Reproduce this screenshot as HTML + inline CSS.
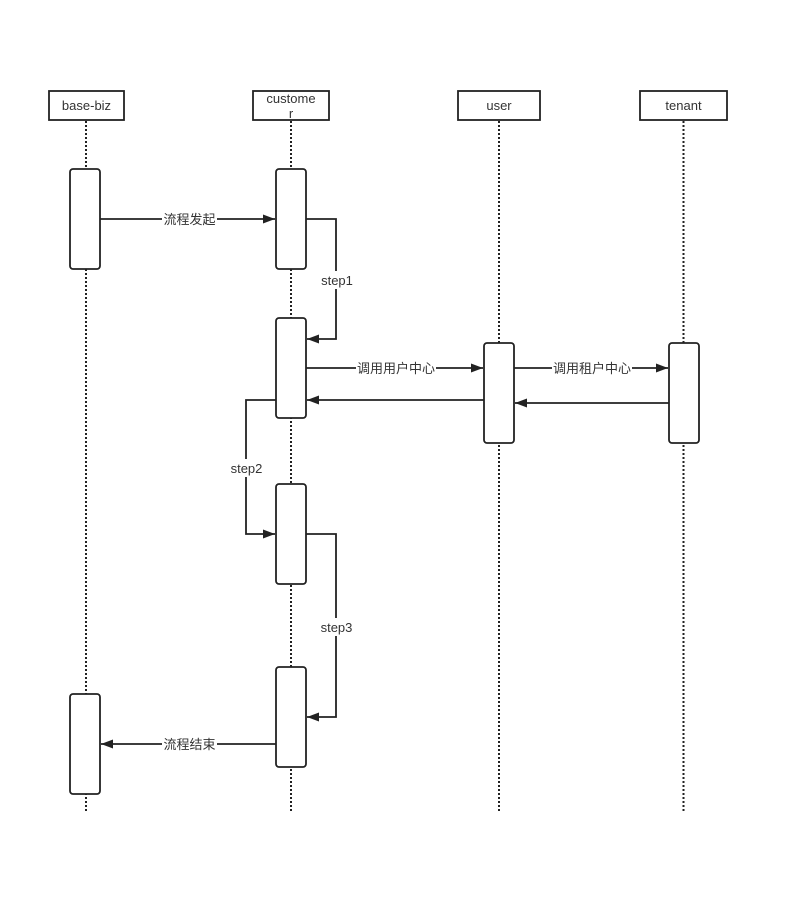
<!DOCTYPE html>
<html>
<head>
<meta charset="utf-8">
<style>
html,body{margin:0;padding:0;background:#fff;}
svg{display:block;}
text{font-family:"Liberation Sans","Noto Sans CJK SC",sans-serif;font-size:13px;fill:#333;}
</style>
</head>
<body>
<svg width="812" height="903" viewBox="0 0 812 903" xmlns="http://www.w3.org/2000/svg">
<defs>
<marker id="ah" markerWidth="12" markerHeight="10" refX="12" refY="5" orient="auto" markerUnits="userSpaceOnUse">
<path d="M0,0.5 L12,5 L0,9.5 Z" fill="#222"/>
</marker>
</defs>
<rect width="812" height="903" fill="#fff"/>

<!-- lifelines -->
<g stroke="#222" stroke-width="2" stroke-dasharray="2 2" fill="none">
<line x1="86" y1="121" x2="86" y2="812"/>
<line x1="291" y1="121" x2="291" y2="812"/>
<line x1="499" y1="121" x2="499" y2="812"/>
<line x1="683.5" y1="121" x2="683.5" y2="812"/>
</g>

<!-- headers -->
<g stroke="#222" stroke-width="1.8" fill="#fff">
<rect x="49" y="91" width="75" height="29"/>
<rect x="253" y="91" width="76" height="29"/>
<rect x="458" y="91" width="82" height="29"/>
<rect x="640" y="91" width="87" height="29"/>
</g>
<text x="86.5" y="110" text-anchor="middle">base-biz</text>
<text x="291" y="103" text-anchor="middle">custome</text>
<text x="291" y="118" text-anchor="middle">r</text>
<text x="499" y="110" text-anchor="middle">user</text>
<text x="683.5" y="110" text-anchor="middle">tenant</text>

<!-- activation boxes -->
<g stroke="#222" stroke-width="1.8" fill="#fff">
<rect x="70" y="169" width="30" height="100" rx="3"/>
<rect x="276" y="169" width="30" height="100" rx="3"/>
<rect x="276" y="318" width="30" height="100" rx="3"/>
<rect x="484" y="343" width="30" height="100" rx="3"/>
<rect x="669" y="343" width="30" height="100" rx="3"/>
<rect x="276" y="484" width="30" height="100" rx="3"/>
<rect x="276" y="667" width="30" height="100" rx="3"/>
<rect x="70" y="694" width="30" height="100" rx="3"/>
</g>

<!-- arrows -->
<g stroke="#222" stroke-width="1.8" fill="none">
<line x1="100" y1="219" x2="275" y2="219" marker-end="url(#ah)"/>
<polyline points="306,219 336,219 336,339 307,339" marker-end="url(#ah)"/>
<line x1="306" y1="368" x2="483" y2="368" marker-end="url(#ah)"/>
<line x1="484" y1="400" x2="307" y2="400" marker-end="url(#ah)"/>
<line x1="514" y1="368" x2="668" y2="368" marker-end="url(#ah)"/>
<line x1="669" y1="403" x2="515" y2="403" marker-end="url(#ah)"/>
<polyline points="276,400 246,400 246,534 275,534" marker-end="url(#ah)"/>
<polyline points="306,534 336,534 336,717 307,717" marker-end="url(#ah)"/>
<line x1="276" y1="744" x2="101" y2="744" marker-end="url(#ah)"/>
</g>

<!-- labels with white bg -->
<g fill="#fff">
<rect x="162" y="210" width="55" height="18"/>
<rect x="319" y="271" width="36" height="18"/>
<rect x="356" y="359" width="80" height="18"/>
<rect x="552" y="359" width="80" height="18"/>
<rect x="228" y="459" width="37" height="18"/>
<rect x="318" y="618" width="37" height="18"/>
<rect x="162" y="735" width="55" height="18"/>
</g>
<text x="189.5" y="224" text-anchor="middle">流程发起</text>
<text x="337" y="285" text-anchor="middle">step1</text>
<text x="396" y="373" text-anchor="middle">调用用户中心</text>
<text x="592" y="373" text-anchor="middle">调用租户中心</text>
<text x="246.5" y="473" text-anchor="middle">step2</text>
<text x="336.5" y="632" text-anchor="middle">step3</text>
<text x="189.5" y="749" text-anchor="middle">流程结束</text>
</svg>
</body>
</html>
